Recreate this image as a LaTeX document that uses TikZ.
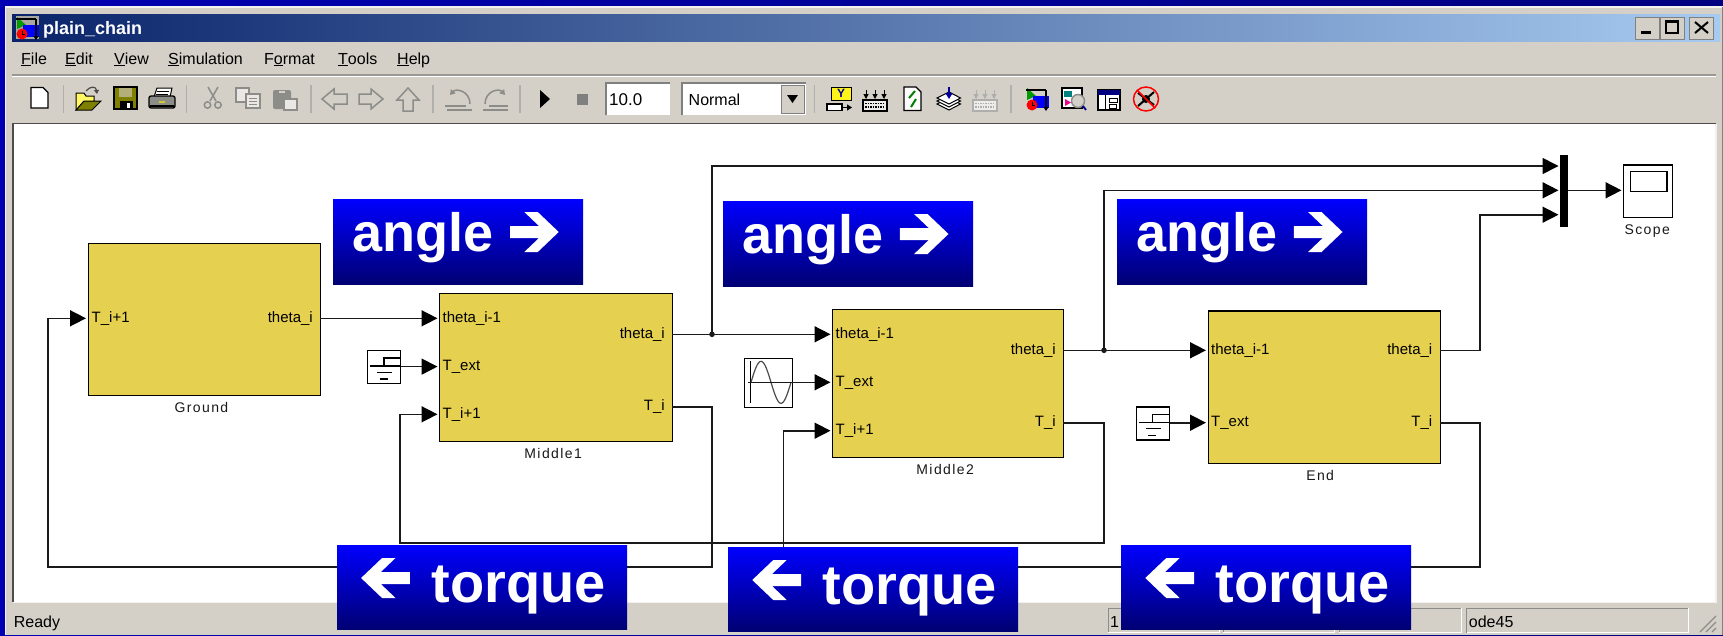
\documentclass[tikz,border=0pt]{standalone}
\usepackage{fontspec}
\setmainfont{Liberation Sans}
\newfontfamily\blockfont[LetterSpace=10]{Liberation Sans}
\usetikzlibrary{positioning,arrows.meta}
\definecolor{winGrey}{HTML}{D4D0C8}
\definecolor{edgeGrey}{HTML}{808080}
\definecolor{iconGrey}{HTML}{8C8C88}
\definecolor{blockYellow}{HTML}{E6D050}
\definecolor{wireBlack}{HTML}{1A1A1A}
\definecolor{titleDark}{HTML}{0A246A}
\definecolor{titleLight}{HTML}{A6CAF0}
\definecolor{oliveDark}{HTML}{808000}
\tikzset{
  sig/.style={wireBlack,line width=1.6pt,-{Triangle[length=16pt,width=16pt,black]},shorten >=1.5pt},
  block/.style={draw=black,fill=blockYellow,line width=1.3pt,inner sep=0pt,anchor=north west},
  source/.style={draw=black,fill=white,line width=1.4pt,inner sep=0pt,anchor=north west},
  port/.style={font=\fontsize{15}{15}\selectfont,text height=11pt,text depth=3pt,inner sep=0pt},
  caption/.style={font=\blockfont\fontsize{14}{14}\selectfont,inner sep=0pt,anchor=north,text=black!90},
  banner/.style={top color=blue,bottom color=blue!45!black,inner sep=0pt,anchor=north west},
  bannertext/.style={text=white,inner sep=0pt,anchor=base west,font=\bfseries\fontsize{54}{54}\selectfont},
  ui/.style={inner sep=0pt,anchor=base west,font=\fontsize{16}{16}\selectfont},
  panel/.style={draw=iconGrey,line width=1pt},
  bevel/.style={draw=edgeGrey,fill=winGrey,line width=1pt},
  sep/.style={draw=iconGrey!70,line width=1.5pt},
  dull/.style={draw=iconGrey,line width=1.5pt,fill=winGrey},
  dim/.style={draw=iconGrey,line width=1.5pt},
  rarrow/.pic={\fill[white] (14.3,-20) -- (27.7,-20) -- (48.7,0) -- (27.7,20) -- (14.3,20)
     -- (29,6) -- (0,6) -- (0,-6) -- (29,-6) -- cycle;},
  stepicon/.pic={
     \draw[black,line width=1.2pt] (34,8) -- (17,8) -- (17,16);
     \draw[black,line width=1.2pt] (3,16) -- (33,16);
     \draw[black,line width=1.2pt] (10,22.5) -- (25,22.5);
     \draw[black,line width=1.2pt] (12.5,29) -- (20.5,29);},
  modelicon/.pic={
     \fill[green!60!black] (1,0) -- (1,12) -- (10,8) -- cycle;
     \fill[blue] (7,8) rectangle (23,20);
     \draw[black,line width=1.2pt] (0,2) -- (20,2);
     \draw[black,line width=1.2pt,-{Triangle[length=4pt,width=5pt]}] (20,2) -- (20,23);
     \fill[red] (6,17) circle (5.5);
     \draw[black,line width=.8pt] (6,13.5) -- (6,17) -- (9,17);},
  gridicon/.pic={
     \draw[#1,line width=1.2pt,fill=white!60!winGrey] (0,0) rectangle (24,11);
     \foreach \r in {3.5,7} \draw[#1,line width=1.5pt,dash pattern=on 1.5pt off 1pt] (2,\r) -- (22,\r);
     \foreach \a in {3,12,21} \draw[#1,line width=1pt,-{Triangle[length=5pt,width=5pt]}] (\a,-10) -- (\a,-1);}
}
\begin{document}
\begin{tikzpicture}[x=1pt,y=-1pt]
  \useasboundingbox (0,0) rectangle (1723,635);
  \shade[left color=blue!70!black,right color=blue!50!black] (0,0) rectangle (1723,635);
  \fill[winGrey] (5,6) rectangle (1723,635);
  \draw[white!70!winGrey,line width=1.5pt] (5.5,635) -- (5.5,7) -- (1723,7);
  \draw[edgeGrey,line width=1pt] (1722.5,7) -- (1722.5,635);
  \shade[left color=titleDark,right color=titleLight] (12,14) rectangle (1720,41.7);
  \draw[edgeGrey!70!winGrey,line width=1.2pt] (12,75) -- (1716,75);
  \draw[white,line width=1.2pt] (12,76.8) -- (1716,76.8);
  \fill[white] (14,124) rectangle (1715,602);
  \draw[edgeGrey!60!black,line width=1.6pt] (13,602) -- (13,123.5) -- (1716,123.5);
  \draw[white!70!winGrey,line width=1.5pt] (13,602.5) -- (1716,602.5) -- (1716,124);
  \node[ui,font=\bfseries\fontsize{18}{18}\selectfont,text=white] (title) at (43,34) {plain\_chain};
  \fill[iconGrey!60!winGrey] (16,16) rectangle (39,39);
  \pic at (16,17) {modelicon};
  \foreach \n/\x in {bmin/1635,bmax/1660,bclose/1689}
    \node[bevel,minimum width=24pt,minimum height=22pt,inner sep=0pt,anchor=north west] (\n) at (\x,17) {};
  \fill[black] (1641,30.5) rectangle (1651,34);
  \draw[black,line width=1.4pt] (1666,21) rectangle (1678,33);
  \fill[black] (1666,20) rectangle (1678,23);
  \draw[black,line width=2pt] (1695,22) -- (1708,33) (1708,22) -- (1695,33);
  \node[ui] (mfile) at (21,64) {\underline{F}ile};
  \node[ui] (medit) at (65,64) {\underline{E}dit};
  \node[ui] (mview) at (114,64) {\underline{V}iew};
  \node[ui] (msim) at (168,64) {\underline{S}imulation};
  \node[ui] (mfmt) at (264,64) {F\underline{o}rmat};
  \node[ui] (mtool) at (338,64) {\underline{T}ools};
  \node[ui] (mhelp) at (397,64) {\underline{H}elp};
  \foreach \x in {63.3,186.7,311,433,520,814.6,1011}
    \draw[sep] (\x,85) -- (\x,113);
  \draw[black,fill=white,line width=1.3pt] (31,87.5) -- (43,87.5) -- (48,92.5) -- (48,108) -- (31,108) -- cycle;
  \draw[black,fill=yellow!60!white,line width=1pt] (76,110) -- (76,93) -- (84,93) -- (86,96) -- (94,96) -- (94,101) -- cycle;
  \draw[black,fill=oliveDark,line width=1pt] (76,110) -- (84,101) -- (101,101) -- (92,110) -- cycle;
  \draw[black!70,line width=1.2pt,-{Triangle[length=4pt,width=5pt]}] (86,91) .. controls (90,86) and (96,86) .. (97,94);
  \draw[black,fill=oliveDark,line width=1.3pt] (114,87) rectangle (137,109);
  \fill[winGrey!60!oliveDark] (119,88) rectangle (132,97);
  \fill[black] (120,101) rectangle (133,109);
  \fill[white] (127,103) rectangle (130,108);
  \draw[black,fill=white,line width=1pt] (154,97) -- (157,88) -- (172,88) -- (170,97) -- cycle;
  \draw[black,line width=.8pt] (157,91) -- (169,91) (156,94) -- (168,94);
  \draw[black,fill=iconGrey,line width=1.3pt,rounded corners=2pt] (149,96) rectangle (175,108);
  \fill[yellow!80!black] (159,101) rectangle (165,103);
  \draw[black,line width=1.4pt] (150,106) -- (174,106);
  \draw[dim] (208,87) -- (216,101) (218,87) -- (210,101);
  \draw[dim] (207.5,105) circle (3.2) (218,105) circle (3.2);
  \draw[dim,line width=1.2pt,fill=white!50!winGrey] (236,88) rectangle (249,102);
  \draw[dim,line width=1.2pt,fill=white!50!winGrey] (246,94) rectangle (260,108);
  \draw[dim,line width=.8pt] (249,98) -- (257,98) (249,101) -- (257,101) (249,104) -- (257,104);
  \fill[iconGrey,rounded corners=2pt] (273,90) rectangle (291,109);
  \fill[winGrey] (279,91) rectangle (285,93);
  \draw[dim,line width=1.2pt,fill=white!50!winGrey] (284,99) rectangle (297,110);
  \draw[dull] (322,99) -- (334,89) -- (334,94) -- (347,94) -- (347,104) -- (334,104) -- (334,109) -- cycle;
  \draw[dull] (383,99) -- (371,89) -- (371,94) -- (359,94) -- (359,104) -- (371,104) -- (371,109) -- cycle;
  \draw[dull] (408,88) -- (419,100) -- (413,100) -- (413,111) -- (403,111) -- (403,100) -- (397,100) -- cycle;
  \draw[dim] (445,106) -- (466,106) (447,110) -- (472,110);
  \draw[dim,-{Triangle[length=5pt,width=6pt]}] (470,104) .. controls (470,91) and (456,88) .. (450,95);
  \draw[dim] (483,110) -- (508,110) (489,106) -- (508,106);
  \draw[dim,-{Triangle[length=5pt,width=6pt]}] (485,104) .. controls (485,91) and (499,88) .. (505,95);
  \fill[black] (540,90) -- (550,99) -- (540,108) -- cycle;
  \fill[edgeGrey] (576.7,93.7) rectangle (588,105);
  \node[fill=white,minimum width=64pt,minimum height=32pt,inner sep=0pt,anchor=north west] (stoptime) at (606,83) {};
  \draw[edgeGrey,line width=2pt] (stoptime.south west) -- (stoptime.north west) -- (stoptime.north east);
  \node[ui,font=\fontsize{17}{17}\selectfont] (stoptext) at (609,105) {10.0};
  \node[fill=white,minimum width=124pt,minimum height=32pt,inner sep=0pt,anchor=north west] (mode) at (682,83) {};
  \draw[edgeGrey,line width=2pt] (mode.south west) -- (mode.north west) -- (mode.north east);
  \node[ui] (modetext) at (688.5,105) {Normal};
  \node[bevel,minimum width=23pt,minimum height=28pt,inner sep=0pt,anchor=north west] (drop) at (781,85) {};
  \fill[black] (787,95) -- (798,95) -- (792.5,103) -- cycle;
  \node[draw=black,fill=yellow!90!white,line width=1.2pt,minimum width=20pt,minimum height=13pt,inner sep=0pt,anchor=north west] (yblock) at (831,87) {};
  \node[inner sep=0pt,text=blue!60!black,font=\bfseries\fontsize{12}{12}\selectfont] (ytext) at (841,93.5) {Y};
  \draw[black,fill=white,line width=1.2pt] (827,104) rectangle (842,110.5);
  \draw[black,line width=1.2pt,-{Triangle[length=5pt,width=6pt]}] (842,107.5) -- (852,107.5);
  \pic at (863,100) {gridicon=black};
  \draw[black,fill=white,line width=1.2pt] (904,87) -- (916,87) -- (921,92) -- (921,110.5) -- (904,110.5) -- cycle;
  \draw[green!50!black,line width=2pt] (915,91) -- (909,98) (916,99) -- (911,107);
  \foreach \s in {6,3,0}
    \draw[black,fill=white,line width=1pt] (949,{92+\s}) -- (960.5,{98+\s}) -- (949,{104+\s}) -- (937,{98+\s}) -- cycle;
  \draw[blue!60!black,line width=2pt,-{Triangle[length=6pt,width=7pt]}] (949,87) -- (949,99);
  \pic at (973,100) {gridicon=iconGrey!70};
  \pic at (1026,88) {modelicon};
  \draw[black,fill=white,line width=1.3pt] (1062,88) rectangle (1082,108);
  \fill[teal] (1064,91) rectangle (1072,97);
  \fill[magenta] (1065,99) -- (1065,106) -- (1071,102.5) -- cycle;
  \draw[iconGrey,fill=winGrey,line width=1.5pt] (1078,101) circle (6.5);
  \draw[blue!60!black,line width=1.8pt] (1083,106) -- (1086,110);
  \draw[black,fill=white,line width=1.3pt] (1098,90) rectangle (1120,110);
  \fill[blue!50!black] (1098,90) rectangle (1120,94.5);
  \draw[black,line width=1pt] (1105,94.5) -- (1105,110) (1109,98) rectangle (1117,102) (1109,104) rectangle (1116,108);
  \draw[red,line width=1.5pt] (1146,99) ellipse (12.5 and 12);
  \draw[black,line width=2pt] (1138,93) -- (1154,105) (1154,92) -- (1138,106);
  \fill[black] (1146,99) circle (4);
  \draw[red,line width=1.5pt] (1137,90) -- (1155,108);
  \foreach \n/\a/\b in {p1/1108/1219,p2/1223/1334,p3/1339/1461.5,p4/1466.5/1688}{
    \draw[panel] (\a,632.5) -- (\a,608) -- (\b,608);
    \draw[white,line width=1pt] (\a,632.5) -- (\b,632.5) -- (\b,608);}
  \node[ui] (ready) at (13.7,627) {Ready};
  \node[ui] (zoomval) at (1110,627) {1};
  \node[ui] (solver) at (1468.7,627) {ode45};
  \foreach \s in {0,6,12}
    \draw[iconGrey,line width=1.2pt] ({1700+\s},632) -- (1716,{616+\s});

  \node[block,minimum width=232.5pt,minimum height=151.5pt] (g) at (87.5,243) {};
  \node[block,minimum width=233pt,minimum height=148pt] (m1) at (439,293) {};
  \node[block,minimum width=231pt,minimum height=148pt] (m2) at (832,309) {};
  \node[block,minimum width=232pt,minimum height=152.5pt] (e) at (1207.5,310.3) {};
  \node[caption,below=6pt of g.south,xshift=-3pt] (gc) {Ground};
  \node[caption,below=6pt of m1.south,xshift=-3pt] (m1c) {Middle1};
  \node[caption,below=6pt of m2.south,xshift=-3pt] (m2c) {Middle2};
  \node[caption,below=6pt of e.south,xshift=-4pt] (ec) {End};
  \node[source,minimum width=33pt,minimum height=33pt] (c1) at (367,350) {};
  \node[source,minimum width=33pt,minimum height=33pt] (c2) at (1135.5,406.2) {};
  \node[source,minimum width=48.5pt,minimum height=49pt] (s1) at (743.5,358) {};
  \node[source,minimum width=49pt,minimum height=52.5pt] (sc) at (1623,164.3) {};
  \node[caption,below=6pt of sc.south,xshift=-1pt] (scc) {Scope};
  \node[draw=black,line width=1.5pt,minimum width=36.5pt,minimum height=20pt,inner sep=0pt,anchor=north west] (screen) at (1629.6,170.7) {};
  \node[fill=black,minimum width=8pt,minimum height=72.5pt,inner sep=0pt,anchor=north west] (mux) at (1560,154.3) {};
  \pic at (c1.north west) {stepicon};
  \pic at (c2.north west) {stepicon};
  \draw[black,line width=1.2pt] (750.7,361) -- (750.7,403);
  \draw[black!70,line width=1.2pt] plot[domain=0:360,samples=40] ({751+\x/360*40},{382.3-21*sin(\x)});

  \coordinate (gI) at (87.5,318.3);
  \coordinate (gO) at (320,318.3);
  \coordinate (m1A) at (439,318.3);
  \coordinate (m1B) at (439,366.6);
  \coordinate (m1C) at (439,414.3);
  \coordinate (m1O) at (672,334.3);
  \coordinate (m1T) at (672,406.7);
  \coordinate (m2A) at (832,334.3);
  \coordinate (m2B) at (832,382.3);
  \coordinate (m2C) at (832,430.7);
  \coordinate (m2O) at (1063,350.3);
  \coordinate (m2T) at (1063,422.7);
  \coordinate (eA) at (1207.5,350.3);
  \coordinate (eB) at (1207.5,422.7);
  \coordinate (eO) at (1439.5,350.3);
  \coordinate (eT) at (1439.5,422.7);
  \coordinate (muxA) at (1560,166);
  \coordinate (muxB) at (1560,190.3);
  \coordinate (muxC) at (1560,214.7);
  \coordinate (scI) at (1623,190.3);
  \coordinate (j1) at (712,334.3);
  \coordinate (j2) at (1104,350.3);
  \coordinate (r1) at (712,566.7);
  \coordinate (l1) at (47.7,566.7);
  \coordinate (r2) at (1104,542.7);
  \coordinate (l2) at (400,542.7);
  \coordinate (r3) at (1480,566.7);
  \coordinate (l3) at (783.5,566.7);

  \node[port,anchor=west,xshift=4pt] (gIl) at (gI) {T\_i+1};
  \node[port,anchor=east,xshift=-7pt] (gOl) at (gO) {theta\_i};
  \foreach \c/\t in {m1A/theta\_i-1,m1B/T\_ext,m1C/T\_i+1,m2A/theta\_i-1,m2B/T\_ext,m2C/T\_i+1,eA/theta\_i-1,eB/T\_ext}
    \node[port,anchor=west,xshift=3.5pt] (\c l) at (\c) {\t};
  \foreach \c/\t in {m1O/theta\_i,m1T/T\_i,m2O/theta\_i,m2T/T\_i,eO/theta\_i,eT/T\_i}
    \node[port,anchor=east,xshift=-7pt] (\c l) at (\c) {\t};

  \draw[sig] (gO) -- (m1A);
  \draw[sig] (m1O) -- (m2A);
  \draw[sig] (m2O) -- (eA);
  \draw[sig] (j1) |- (muxA);
  \draw[sig] (j2) |- (muxB);
  \draw[sig] (eO) -- (eO -| r3) |- (muxC);
  \draw[sig] (m1T) -| (r1) -- (l1) |- (gI);
  \draw[sig] (m2T) -| (r2) -- (l2) |- (m1C);
  \draw[sig] (eT) -| (r3) -- (l3) |- (m2C);
  \draw[sig] (c1.east |- m1B) -- (m1B);
  \draw[sig] (748,382.3) -- (m2B);
  \draw[sig] (c2.east |- eB) -- (eB);
  \draw[sig] (mux.east |- scI) -- (scI);
  \fill[wireBlack] (j1) circle (2.8);
  \fill[wireBlack] (j2) circle (2.8);

  \foreach \n/\x/\y in {ang1/333/199,ang2/722.8/201,ang3/1116.8/199}{
    \node[banner,minimum width=250pt,minimum height=85pt] (\n) at (\x,\y) {};
    \node[bannertext] (\n t) at ([xshift=19.7pt,yshift=-52.7pt]\n.north west) {angle};
    \pic at ([xshift=177pt,yshift=-33pt]\n.north west) {rarrow};}
  \foreach \n/\x/\y in {trq1/336.8/545,trq2/728/547,trq3/1121/545}{
    \node[banner,minimum width=290pt,minimum height=84pt] (\n) at (\x,\y) {};
    \node[bannertext,font=\bfseries\fontsize{56}{56}\selectfont] (\n t) at ([xshift=94.5pt,yshift=-57.5pt]\n.north west) {torque};
    \pic[xscale=-1] at ([xshift=73pt,yshift=-33pt]\n.north west) {rarrow};}
\end{tikzpicture}
\end{document}
